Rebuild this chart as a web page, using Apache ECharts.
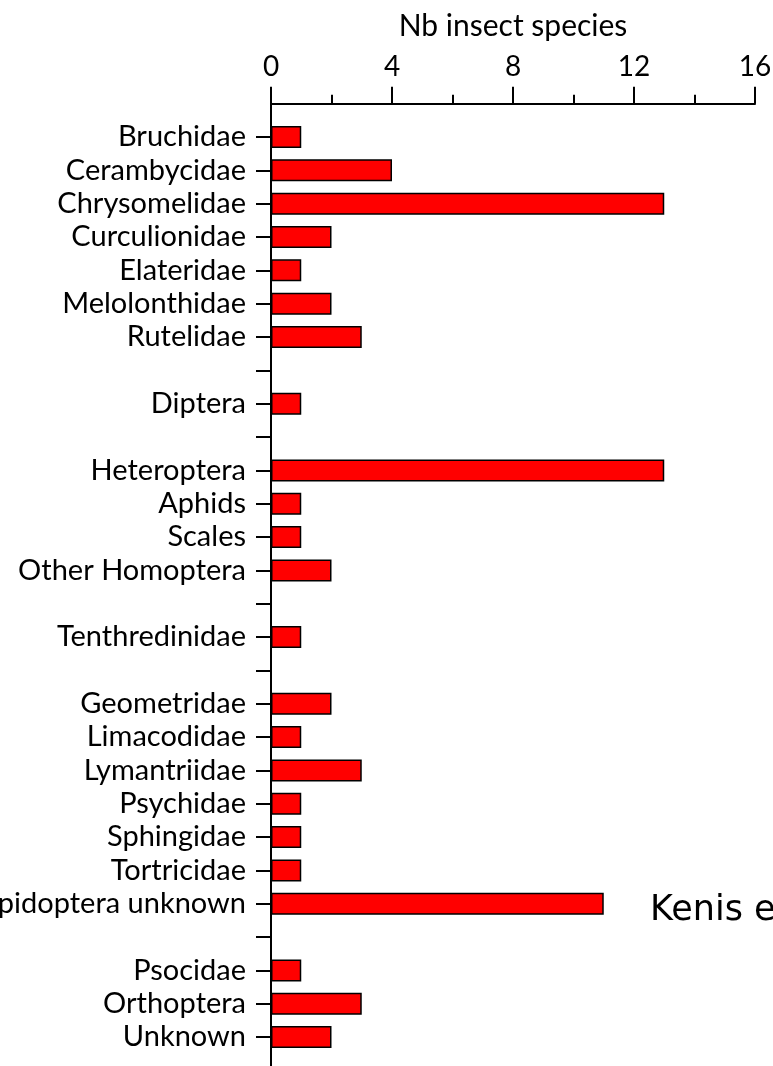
<!DOCTYPE html>
<html>
<head>
<meta charset="utf-8">
<script src="https://cdn.jsdelivr.net/npm/echarts@6/dist/echarts.min.js"></script>
<style>
  html, body { margin: 0; padding: 0; background: #fff; }
  #chart { width: 773px; height: 1066px; }
</style>
</head>
<body>
<div id="chart"></div>
<script>
// categories, blank entries are the gaps between insect groups
const families = [
  "", "Bruchidae", "Cerambycidae", "Chrysomelidae", "Curculionidae", "Elateridae",
  "Melolonthidae", "Rutelidae", " ", "Diptera", "  ", "Heteroptera", "Aphids",
  "Scales", "Other Homoptera", "   ", "Tenthredinidae", "    ", "Geometridae",
  "Limacodidae", "Lymantriidae", "Psychidae", "Sphingidae", "Tortricidae",
  "Lepidoptera unknown", "     ", "Psocidae", "Orthoptera", "Unknown", "      "
];
const nbSpecies = [
  null, 1, 4, 13, 2, 1,
  2, 3, null, 1, null, 13, 1,
  1, 2, null, 1, null, 2,
  1, 3, 1, 1, 1,
  11, null, 1, 3, 2, null
];
const xTicks = [0, 16, 4]; // min, max, interval

const labelFont = "Lato, 'Noto Sans', sans-serif";

let chart = echarts.init(document.getElementById("chart"));
let option = {
  animation: false,
  backgroundColor: "#fff",
  grid: {
    left: 271, right: 18, top: 103.7, height: 966.7,
    containLabel: false,
    outerBoundsMode: "none"
  },
  xAxis: {
    type: "value",
    position: "top",
    min: xTicks[0],
    max: xTicks[1],
    interval: xTicks[2],
    name: "Nb insect species",
    nameLocation: "middle",
    nameGap: 62,
    nameTextStyle: { color: "#000", fontSize: 30, fontFamily: labelFont },
    axisLine: { show: true, lineStyle: { color: "#000", width: 2 } },
    axisTick: { show: true, length: 17, lineStyle: { color: "#000", width: 2 } },
    minorTick: { show: true, splitNumber: 2, length: 9, lineStyle: { color: "#000", width: 2 } },
    axisLabel: { color: "#000", fontSize: 28, fontFamily: labelFont, margin: 23 },
    splitLine: { show: false }
  },
  yAxis: {
    type: "category",
    inverse: true,
    boundaryGap: false,
    data: families,
    axisLine: { show: true, lineStyle: { color: "#000", width: 2 } },
    axisTick: {
      show: true,
      length: 15,
      interval: (i) => i !== 0 && i !== families.length - 1,
      lineStyle: { color: "#000", width: 2 }
    },
    axisLabel: { color: "#000", fontSize: 29, fontFamily: labelFont, margin: 25, interval: 0 },
    splitLine: { show: false }
  },
  series: [
    {
      type: "bar",
      data: nbSpecies,
      barWidth: 22,
      itemStyle: { color: "#ff0000", borderColor: "#000", borderWidth: 1.5 }
    }
  ],
  graphic: [
    {
      type: "text",
      x: 650,
      y: 911,
      style: {
        text: "Kenis et al.",
        fill: "#000",
        fontSize: 35,
        fontFamily: "'DejaVu Sans', sans-serif",
        verticalAlign: "middle"
      }
    }
  ]
};
chart.setOption(option);
</script>
</body>
</html>
